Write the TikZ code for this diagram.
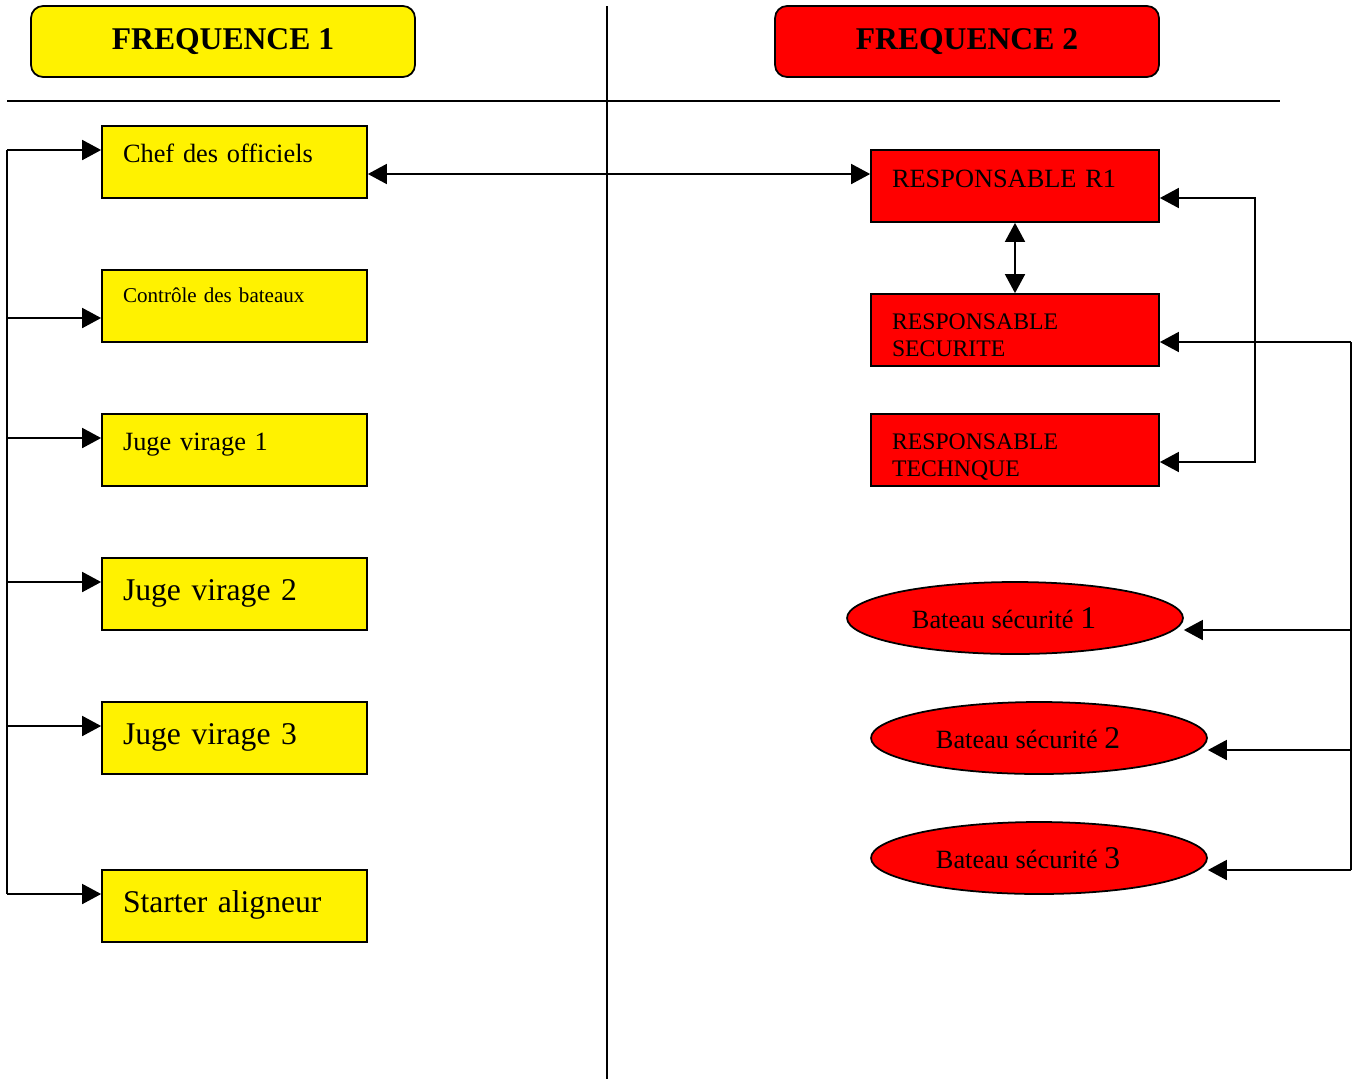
\documentclass[tikz,border=0pt]{standalone}
\usepackage{fontspec}
\setmainfont{Liberation Serif}
\usepackage{tikz}
\usetikzlibrary{positioning}
\usetikzlibrary{shapes.geometric,arrows.meta,calc}

\newcommand{\txtsize}[2]{\fontsize{#1}{#2}\selectfont}
\newcommand{\boatno}[1]{{\txtsize{18}{20}#1}\hspace*{0.44cm}}

\tikzset{
  head/.style={draw, rounded corners=0.24cm, minimum width=7.68cm, minimum height=1.42cm, inner sep=0pt, font=\txtsize{18}{20}\bfseries},
  box/.style={draw, rectangle, minimum width=5.3cm, inner xsep=0.42cm, inner ysep=0pt, text width=4.46cm, align=left},
  ybox/.style={box, fill=yellow},
  rbox/.style={box, fill=red, minimum width=5.76cm, text width=4.92cm},
  boat/.style={draw, ellipse, fill=red, minimum width=6.72cm, minimum height=1.44cm, inner sep=0pt, font=\txtsize{15}{17}},
  arr/.style={-{Triangle[length=0.38cm,width=0.4cm]}},
  arrs/.style={{Triangle[length=0.38cm,width=0.4cm]}-{Triangle[length=0.38cm,width=0.4cm]}}
}

\begin{document}
\begin{tikzpicture}[x=0.02cm, y=-0.02cm, line width=1pt]

\useasboundingbox (0,0) rectangle (1358,1079);

%\draw[step=50, gray!20, very thin] (0,0) grid (1358,1079);

\draw (7,101) -- (1280,101);
\draw (607,6) -- (607,1079);

\node[head, fill=yellow] (freq1) at (223,41.5) {FREQUENCE 1};
\node[head, fill=red]    (freq2) at (967,41.5) {FREQUENCE 2};

% frequence 1
\node[ybox, text height=0.72cm, text depth=0.72cm, font=\txtsize{15}{17}] (chef)  at (234.5,162) {Chef des officiels};
\node[ybox, text height=0.64cm, text depth=0.80cm, font=\txtsize{12}{14}] (ctrl)  at (234.5,306) {Contrôle des bateaux};
\node[ybox, text height=0.72cm, text depth=0.72cm, font=\txtsize{15}{17}] (juge1) at (234.5,450) {Juge virage 1};
\node[ybox, text height=0.84cm, text depth=0.60cm, font=\txtsize{18}{20}] (juge2) at (234.5,594) {Juge virage 2};
\node[ybox, text height=0.84cm, text depth=0.60cm, font=\txtsize{18}{20}] (juge3) at (234.5,738) {Juge virage 3};
\node[ybox, text height=0.84cm, text depth=0.60cm, font=\txtsize{18}{20}] (start) at (234.5,906) {Starter aligneur};

% frequence 2
\node[rbox, text height=0.74cm, text depth=0.70cm, font=\txtsize{15}{17}]   (r1)   at (1015,186) {RESPONSABLE R1};
\node[rbox, text height=0.70cm, text depth=0.74cm, font=\txtsize{13.5}{15.5}] (secu) at (1015,330) {RESPONSABLE\\SECURITE};
\node[rbox, text height=0.70cm, text depth=0.74cm, font=\txtsize{13.5}{15.5}] (tech) at (1015,450) {RESPONSABLE\\TECHNQUE};

\node[boat] (bat1) at (1015,618) {Bateau sécurité \boatno{1}};
\node[boat] (bat2) at (1039,738) {Bateau sécurité \boatno{2}};
\node[boat] (bat3) at (1039,858) {Bateau sécurité \boatno{3}};

% left bus
\coordinate (b1) at (7,150);
\coordinate (b2) at (7,318);
\coordinate (b3) at (7,438);
\coordinate (b4) at (7,582);
\coordinate (b5) at (7,726);
\coordinate (b6) at (7,894);
\draw (b1) -- (b6);
\foreach \b/\n in {b1/chef,b2/ctrl,b3/juge1,b4/juge2,b5/juge3,b6/start}
  \draw[arr] (\b) -- (\b -| \n.west);

\coordinate (h1) at (607,174);
\draw[arrs] (h1 -| chef.east) -- (h1 -| r1.west);
\draw[arrs] (r1.south) -- (secu.north);

\coordinate (c1) at (1255,198);
\coordinate (c2) at (1255,462);
\draw[arrs] (c1 -| r1.east) -- (c1) -- (c2) -- (c2 -| tech.east);

% right bus
\coordinate (d1) at (1351,342);
\coordinate (d2) at (1351,630);
\coordinate (d3) at (1351,750);
\coordinate (d4) at (1351,870);
\draw[arr] (d1) -- (d1 -| secu.east);
\draw (d1) -- (d4);
\foreach \d/\n in {d2/bat1,d3/bat2,d4/bat3}
  \draw[arr] (\d) -- (\d -| \n.east);

\end{tikzpicture}
\end{document}
